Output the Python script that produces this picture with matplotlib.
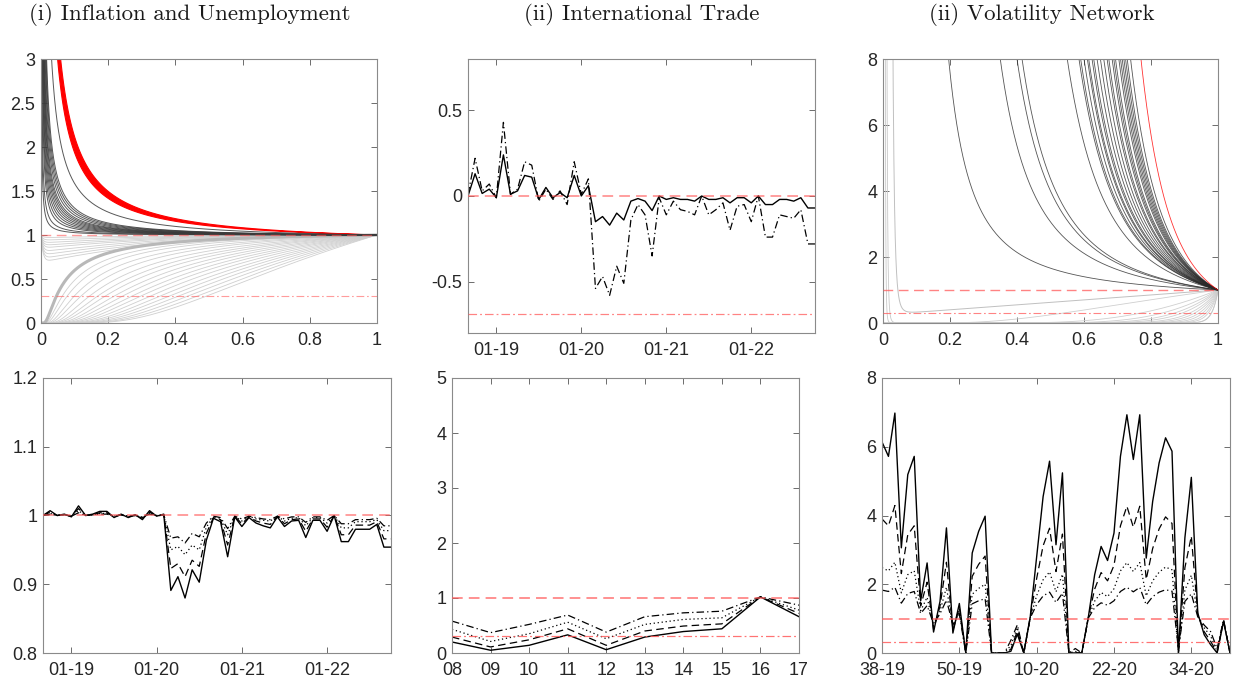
import numpy as np
import matplotlib.pyplot as plt
from matplotlib.ticker import FormatStrFormatter

# ---------------- data ----------------
# top-left: parameters of the curve families
tl_upper_c = [0.003, 0.005, 0.008, 0.010, 0.012, 0.014, 0.016, 0.018,
              0.020, 0.022, 0.025, 0.028, 0.031, 0.034, 0.065]
tl_red_band = [0.104, 0.124]
tl_thick_k = 0.057
tl_low_k = [0.08, 0.10, 0.13, 0.16, 0.20, 0.24, 0.28, 0.33, 0.38, 0.44,
            0.50, 0.57, 0.65, 0.73, 0.82, 0.92, 1.03, 1.15]
tl_dip_b = [0.03, 0.06, 0.09, 0.12, 0.15, 0.19, 0.23, 0.27, 0.31]
tl_hlines = [1.0, 0.31]

# top-right: x where each black curve leaves the top of the panel (y=8)
tr_black_x8 = [0.196, 0.35, 0.40, 0.415, 0.55, 0.585, 0.59, 0.60, 0.61, 0.614,
               0.624, 0.629, 0.639, 0.649, 0.659, 0.669, 0.674, 0.684, 0.689,
               0.694, 0.704, 0.709, 0.714, 0.719, 0.724, 0.729, 0.739]
tr_red_x8 = 0.77
tr_low_k = [1.4, 4, 6, 8, 10, 13, 16, 20, 25, 32, 40]
tr_wall_x0 = [0.010, 0.017]
tr_hlines = [1.0, 0.31]

# monthly axis (top-middle, bottom-left): month 0 = Jan 2019
months = np.arange(-4, 46)
month_ticks = [0, 12, 24, 36]
month_labels = ['01-19', '01-20', '01-21', '01-22']

tm_solid = [0.0, 0.13, 0.015, 0.04, -0.01, 0.24, 0.01, 0.03, 0.12, 0.11,
            -0.02, 0.05, -0.01, 0.02, -0.01, 0.12, 0.0, 0.06, -0.15, -0.12,
            -0.17, -0.10, -0.14, -0.03, -0.015, -0.03, -0.085, 0.0, -0.02, -0.01,
            -0.02, -0.02, -0.03, 0.0, -0.02, -0.02, -0.01, -0.04, -0.01, -0.01,
            -0.04, 0.0, -0.05, -0.05, -0.02, -0.02, -0.03, -0.01, -0.07, -0.07]
tm_dashdot = [0.01, 0.22, 0.03, 0.07, -0.01, 0.43, 0.01, 0.04, 0.20, 0.18,
              -0.03, 0.04, -0.02, 0.03, -0.05, 0.20, 0.01, 0.10, -0.54, -0.47,
              -0.58, -0.41, -0.51, -0.14, -0.05, -0.11, -0.35, -0.01, -0.11, -0.03,
              -0.08, -0.09, -0.11, 0.0, -0.11, -0.08, -0.04, -0.20, -0.06, -0.05,
              -0.15, 0.0, -0.24, -0.24, -0.11, -0.12, -0.13, -0.08, -0.28, -0.28]
tm_hlines = [0.0, -0.69]

bl_solid = [1.000, 1.007, 1.000, 1.002, 0.998, 1.014, 1.000, 1.002, 1.006, 1.006,
            0.997, 1.002, 0.997, 1.001, 0.994, 1.007, 0.999, 1.002, 0.891, 0.911,
            0.880, 0.921, 0.903, 0.964, 0.996, 0.991, 0.940, 0.998, 0.984, 0.997,
            0.989, 0.985, 0.982, 0.998, 0.984, 0.992, 0.993, 0.968, 0.993, 0.993,
            0.977, 1.000, 0.962, 0.962, 0.980, 0.980, 0.980, 0.987, 0.954, 0.954]
bl_dashed = [1.000, 1.005, 1.000, 1.001, 0.999, 1.010, 1.000, 1.001, 1.004, 1.004,
             0.998, 1.001, 0.998, 1.001, 0.996, 1.005, 0.999, 1.001, 0.923, 0.930,
             0.911, 0.935, 0.926, 0.974, 0.997, 0.994, 0.957, 0.999, 0.988, 0.998,
             0.992, 0.989, 0.987, 0.999, 0.988, 0.994, 0.995, 0.977, 0.995, 0.995,
             0.983, 1.000, 0.972, 0.972, 0.986, 0.986, 0.986, 0.991, 0.966, 0.966]
bl_dotted = [1.000, 1.003, 1.000, 1.001, 0.999, 1.007, 1.000, 1.001, 1.003, 1.003,
             0.999, 1.001, 0.999, 1.000, 0.997, 1.003, 1.000, 1.001, 0.950, 0.955,
             0.943, 0.957, 0.950, 0.983, 0.998, 0.996, 0.972, 0.999, 0.992, 0.999,
             0.995, 0.993, 0.992, 0.999, 0.992, 0.996, 0.997, 0.985, 0.997, 0.997,
             0.989, 1.000, 0.982, 0.982, 0.991, 0.991, 0.991, 0.994, 0.978, 0.978]
bl_dashdot = [1.000, 1.002, 1.000, 1.001, 0.999, 1.004, 1.000, 1.001, 1.002, 1.002,
              0.999, 1.001, 0.999, 1.000, 0.998, 1.002, 1.000, 1.001, 0.967, 0.969,
              0.960, 0.974, 0.969, 0.989, 0.999, 0.997, 0.981, 0.999, 0.995, 0.999,
              0.997, 0.995, 0.994, 0.999, 0.995, 0.998, 0.998, 0.990, 0.998, 0.998,
              0.993, 1.000, 0.988, 0.988, 0.994, 0.994, 0.994, 0.996, 0.985, 0.985]

# yearly axis (bottom-middle)
years = ['08', '09', '10', '11', '12', '13', '14', '15', '16', '17']
bm_solid = [0.20, 0.05, 0.14, 0.33, 0.06, 0.29, 0.39, 0.44, 1.02, 0.66]
bm_dashed = [0.29, 0.11, 0.24, 0.44, 0.14, 0.40, 0.49, 0.53, 1.02, 0.72]
bm_dotted = [0.43, 0.21, 0.35, 0.56, 0.26, 0.52, 0.61, 0.64, 1.02, 0.78]
bm_dashdot = [0.58, 0.37, 0.52, 0.69, 0.38, 0.66, 0.73, 0.76, 1.02, 0.87]
bm_hlines = [1.0, 0.31]

# weekly axis (bottom-right): week 0 = week 38 of 2019
weeks = np.arange(55)
week_ticks = [0, 12, 24, 36, 48]
week_labels = ['38-19', '50-19', '10-20', '22-20', '34-20']
br_solid = [6.14, 5.72, 6.98, 3.06, 5.19, 5.72, 1.52, 2.62, 0.61, 1.50,
            3.64, 0.58, 1.44, 0.00, 2.91, 3.54, 3.98, 0.00, 0.00, 0.00,
            0.05, 0.55, 0.00, 1.05, 2.80, 4.55, 5.58, 3.15, 5.24, 0.00,
            0.002, 0.00, 1.02, 2.28, 3.10, 2.69, 3.49, 5.72, 6.93, 5.63,
            6.93, 2.76, 4.41, 5.53, 6.26, 5.87, 0.001, 3.35, 5.11, 1.16,
            0.53, 0.24, 0.002, 0.92, 0.00]
br_dashed = [3.90, 3.70, 4.29, 2.31, 3.44, 3.70, 1.37, 2.06, 0.69, 1.36,
             2.64, 0.66, 1.32, 0.00, 2.23, 2.58, 2.82, 0.00, 0.00, 0.00,
             0.11, 0.64, 0.00, 1.04, 2.17, 3.12, 3.63, 2.37, 3.46, 0.00,
             0.01, 0.00, 1.02, 1.86, 2.34, 2.10, 2.55, 3.70, 4.27, 3.66,
             4.27, 2.14, 3.04, 3.61, 3.96, 3.77, 0.006, 2.48, 3.40, 1.12,
             0.62, 0.34, 0.01, 0.94, 0.00]
br_dotted = [2.48, 2.39, 2.64, 1.75, 2.28, 2.39, 1.23, 1.62, 0.78, 1.22,
             1.91, 0.76, 1.20, 0.00, 1.71, 1.88, 2.00, 0.00, 0.00, 0.00,
             0.22, 0.74, 0.00, 1.02, 1.67, 2.13, 2.36, 1.78, 2.29, 0.00,
             0.045, 0.00, 1.01, 1.51, 1.76, 1.64, 1.87, 2.39, 2.63, 2.37,
             2.63, 1.66, 2.10, 2.35, 2.50, 2.42, 0.03, 1.83, 2.26, 1.08,
             0.73, 0.49, 0.045, 0.96, 0.00]
br_dashdot = [1.83, 1.79, 1.91, 1.45, 1.73, 1.79, 1.15, 1.38, 0.85, 1.14,
              1.54, 0.83, 1.13, 0.00, 1.43, 1.52, 1.58, 0.00, 0.00, 0.00,
              0.37, 0.82, 0.00, 1.02, 1.41, 1.66, 1.77, 1.47, 1.74, 0.00,
              0.13, 0.00, 1.01, 1.32, 1.46, 1.39, 1.52, 1.79, 1.91, 1.78,
              1.91, 1.40, 1.64, 1.77, 1.84, 1.80, 0.10, 1.50, 1.72, 1.05,
              0.81, 0.62, 0.13, 0.97, 0.00]
br_hlines = [1.0, 0.31]

titles = ['(i) Inflation and Unemployment', '(ii) International Trade',
          '(ii) Volatility Network']

# ---------------- styling ----------------
plt.rcParams['font.family'] = ['Liberation Sans', 'DejaVu Sans']
W, H = 1238, 686
fig = plt.figure(figsize=(W / 100, H / 100), dpi=100)

def box(l, t, r, b):
    return fig.add_axes([l / W, 1 - b / H, (r - l) / W, (b - t) / H])

def matlab_style(ax):
    for s in ax.spines.values():
        s.set_color('#8a8a8a')
        s.set_linewidth(0.8)
    ax.tick_params(direction='in', top=True, right=True, length=4, width=0.6,
                   color='#555555', labelcolor='#262626', labelsize=13)
    ax.tick_params(axis='x', pad=6.5)
    ax.tick_params(axis='y', pad=4)

RED = '#ff5a5a'
DASH = (0, (6, 3.5))
DOT = (0, (1, 2.2))
DASHDOT = (0, (6, 2.5, 1, 2.5))

def ref_lines(ax, levels, lw=1.1, alpha=1.0):
    ax.axhline(levels[0], color=RED, lw=lw, ls=(0, (7, 4)), alpha=alpha, zorder=5)
    ax.axhline(levels[1], color=RED, lw=lw * 0.8, ls=(0, (7, 2.5, 1.5, 2.5)),
               alpha=alpha, zorder=5)

x = np.linspace(1e-3, 1, 2000)

def ratio_curve(c):
    return 1 + c * (1 - x) / x

def decay_curve(k):
    return np.exp(-k * (1 - x) / x)

def dip_curve(b):
    return 1 - b * (1 - x) ** 2.5 * (1 - np.exp(-x / 0.006))

def blowup_curve(x8):
    k = np.log(8) * x8 / (1 - x8)
    return np.exp(np.minimum(k * (1 - x) / x, 40))

# ---------------- top-left ----------------
ax = box(41, 59, 377, 323)
for k in tl_low_k:
    ax.plot(x, decay_curve(k), color='#cfcfcf', lw=0.6)
for b in tl_dip_b:
    ax.plot(x, dip_curve(b), color='#cfcfcf', lw=0.6)
ax.plot(x, decay_curve(tl_thick_k), color='#b8b8b8', lw=2.2)
for c in tl_upper_c:
    ax.plot(x, ratio_curve(c), color='#3a3a3a', lw=0.7, alpha=0.85)
ax.fill_between(x, ratio_curve(tl_red_band[0]), ratio_curve(tl_red_band[1]),
                color='red', lw=0.8, edgecolor='red')
ref_lines(ax, tl_hlines, lw=1.0, alpha=0.6)
ax.set_xlim(0, 1)
ax.set_ylim(0, 3)
ax.set_xticks([0, 0.2, 0.4, 0.6, 0.8, 1])
ax.set_yticks([0, 0.5, 1, 1.5, 2, 2.5, 3])
ax.xaxis.set_major_formatter(FormatStrFormatter('%g'))
ax.yaxis.set_major_formatter(FormatStrFormatter('%g'))
matlab_style(ax)

# ---------------- top-middle ----------------
ax = box(468, 59, 815, 333)
ax.plot(months, tm_solid, color='black', lw=1.0)
ax.plot(months, tm_dashdot, color='black', lw=0.9, ls=DASHDOT)
ref_lines(ax, tm_hlines, lw=1.1, alpha=0.75)
ax.set_xlim(months[0], months[-1])
ax.set_ylim(-0.8, 0.8)
ax.set_xticks(month_ticks)
ax.set_xticklabels(month_labels)
ax.set_yticks([-0.5, 0, 0.5])
ax.yaxis.set_major_formatter(FormatStrFormatter('%g'))
matlab_style(ax)

# ---------------- top-right ----------------
ax = box(883, 59, 1218, 323)
for k in tr_low_k:
    ax.plot(x, decay_curve(k), color='#cfcfcf', lw=0.6)
for x0 in tr_wall_x0:
    ax.plot(x, (x0 / x) ** 6 + decay_curve(60), color='#c8c8c8', lw=0.6)
ax.plot(x, 0.25 + 0.75 * x + (0.042 / x) ** 6, color='#c0c0c0', lw=0.7)
for x8 in tr_black_x8:
    ax.plot(x, blowup_curve(x8), color='#2a2a2a', lw=0.6, alpha=0.8)
ax.plot(x, blowup_curve(tr_red_x8), color='red', lw=0.6, alpha=0.8)
ref_lines(ax, tr_hlines, lw=1.0, alpha=0.75)
ax.set_xlim(0, 1)
ax.set_ylim(0, 8)
ax.set_xticks([0, 0.2, 0.4, 0.6, 0.8, 1])
ax.set_yticks([0, 2, 4, 6, 8])
ax.xaxis.set_major_formatter(FormatStrFormatter('%g'))
matlab_style(ax)

# ---------------- bottom-left ----------------
ax = box(43, 378, 391, 653)
ax.plot(months, bl_solid, color='black', lw=1.0)
ax.plot(months, bl_dashed, color='black', lw=0.9, ls=DASH)
ax.plot(months, bl_dotted, color='black', lw=0.9, ls=DOT)
ax.plot(months, bl_dashdot, color='black', lw=0.9, ls=DASHDOT)
ax.axhline(1.0, color=RED, lw=1.1, ls=(0, (7, 4)), alpha=0.75, zorder=5)
ax.set_xlim(months[0], months[-1])
ax.set_ylim(0.8, 1.2)
ax.set_xticks(month_ticks)
ax.set_xticklabels(month_labels)
ax.set_yticks([0.8, 0.9, 1, 1.1, 1.2])
ax.yaxis.set_major_formatter(FormatStrFormatter('%g'))
matlab_style(ax)

# ---------------- bottom-middle ----------------
ax = box(452, 378, 799, 653)
pos = np.arange(len(years))
ax.plot(pos, bm_solid, color='black', lw=1.0)
ax.plot(pos, bm_dashed, color='black', lw=0.9, ls=DASH)
ax.plot(pos, bm_dotted, color='black', lw=0.9, ls=DOT)
ax.plot(pos, bm_dashdot, color='black', lw=0.9, ls=DASHDOT)
ref_lines(ax, bm_hlines, lw=1.1, alpha=0.85)
ax.set_xlim(pos[0], pos[-1])
ax.set_ylim(0, 5)
ax.set_xticks(pos)
ax.set_xticklabels(years)
ax.set_yticks([0, 1, 2, 3, 4, 5])
matlab_style(ax)

# ---------------- bottom-right ----------------
ax = box(882, 378, 1230, 653)
ax.plot(weeks, br_solid, color='black', lw=1.0)
ax.plot(weeks, br_dashed, color='black', lw=0.9, ls=DASH)
ax.plot(weeks, br_dotted, color='black', lw=0.9, ls=DOT)
ax.plot(weeks, br_dashdot, color='black', lw=0.9, ls=DASHDOT)
ref_lines(ax, br_hlines, lw=1.1, alpha=0.85)
ax.set_xlim(weeks[0], weeks[-1])
ax.set_ylim(0, 8)
ax.set_xticks(week_ticks)
ax.set_xticklabels(week_labels)
ax.set_yticks([0, 2, 4, 6, 8])
matlab_style(ax)

# ---------------- titles ----------------
for cx, t in zip([190, 642, 1042], titles):
    fig.text(cx / W, 1 - 14 / H, t, ha='center', va='center',
             family='cmr10', fontsize=16.5, color='#1a1a1a')

fig.savefig('out.png', dpi=100)
